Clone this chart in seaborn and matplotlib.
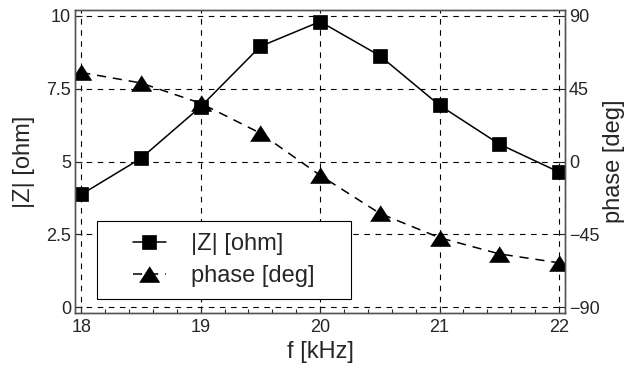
import numpy as np
import pandas as pd
import seaborn as sns
import matplotlib.pyplot as plt
from matplotlib.legend_handler import HandlerLine2D

# 測定データ
freq = [18, 18.5, 19, 19.5, 20, 20.5, 21, 21.5, 22]
z_ohm = [3.87, 5.11, 6.88, 8.95, 9.80, 8.63, 6.93, 5.60, 4.64]
phase_deg = [55, 48.5, 36, 17.5, -8.5, -32, -47, -57, -62.5]

df = pd.DataFrame({"f": freq, "Z": z_ohm, "phase": phase_deg})

sns.set_style("ticks")
plt.rcParams['font.family'] = ['Liberation Sans', 'DejaVu Sans']

# 横長の三角マーカー
tri = [(-1, -0.78), (1, -0.78), (0, 0.78)]

fig = plt.figure(figsize=(6.27, 3.68), dpi=100)
ax = fig.add_axes([0.12, 0.149, 0.781, 0.824])
ax2 = ax.twinx()

sns.lineplot(data=df, x="f", y="Z", ax=ax, color="black", marker="s",
             markersize=10, markeredgecolor="black", markeredgewidth=0.5,
             linewidth=1.1, label="|Z| [ohm]")
sns.lineplot(data=df, x="f", y="phase", ax=ax2, color="black", marker=tri,
             markersize=14.5, markeredgecolor="black", markeredgewidth=0.5,
             linewidth=1.1, linestyle=(0, (6, 4.5)), label="phase [deg]")

ax.set_xlim(17.95, 22.05)
ax.set_ylim(-0.2, 10.2)
ax2.set_ylim(-90 - 0.2 * 18, 90 + 0.2 * 18)
ax.set_xticks([18, 19, 20, 21, 22])
ax.set_xticks(np.arange(18, 22.01, 0.2), minor=True)
ax.set_yticks([0, 2.5, 5, 7.5, 10])
ax.set_yticklabels(["0", "2.5", "5", "7.5", "10"])
ax2.set_yticks([-90, -45, 0, 45, 90])

ax.grid(True, which="major", color="black", linestyle=(0, (5, 5)), linewidth=0.8)

for a in (ax, ax2):
    a.tick_params(direction="in", length=5, labelsize=13, width=0.8, pad=3)
    for s in a.spines.values():
        s.set_color("#555555")
        s.set_linewidth(1.0)
ax.tick_params(axis="x", which="minor", direction="in", length=3, width=0.8)
ax.tick_params(axis="x", pad=4)

ax.set_xlabel("f [kHz]", fontsize=17, labelpad=4)
ax.set_ylabel("|Z| [ohm]", fontsize=17, labelpad=8)
ax2.set_ylabel("phase [deg]", fontsize=17, labelpad=2)

h1, l1 = ax.get_legend_handles_labels()
h2, l2 = ax2.get_legend_handles_labels()
if ax.get_legend() is not None:
    ax.get_legend().remove()
handles = h1 + h2
hmap = {h: HandlerLine2D(xpad=1.03) for h in handles}
leg = ax2.legend(handles, l1 + l2, loc="lower left",
                 bbox_to_anchor=(0.045, 0.046, 0.518, 0.261), mode="expand",
                 fontsize=17, frameon=True, fancybox=False, framealpha=1,
                 edgecolor="black", handlelength=2.39, borderpad=0.5,
                 labelspacing=0.45, handletextpad=1.06, borderaxespad=0,
                 handler_map=hmap)
leg.get_frame().set_linewidth(0.8)

fig.savefig("out.png", dpi=100)
